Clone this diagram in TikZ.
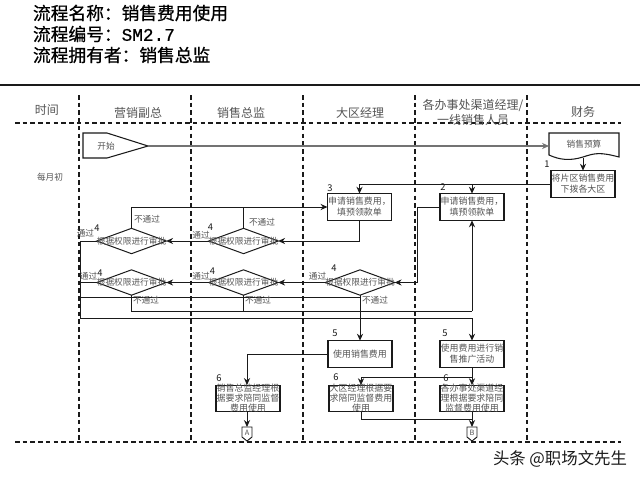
\documentclass[tikz,border=0pt]{standalone}
\usepackage{fontspec}
\setmainfont{Noto Sans CJK SC}
\newfontfamily\latinmono[FakeBold=0.6]{Liberation Mono}
\newfontfamily\ttlf[FakeBold=0.6]{Noto Sans CJK SC}
\usetikzlibrary{arrows.meta,shapes.geometric}
\definecolor{ink}{HTML}{1A1A1A}
\definecolor{txt}{HTML}{555555}
\tikzset{
  x=0.75pt,y=-0.75pt,
  every node/.style={inner sep=0pt,outer sep=0pt,text=txt},
  lane/.style={dashed,dash pattern=on 3.4pt off 2.4pt,line width=0.8pt,color=ink},
  flow/.style={line width=0.75pt,color=ink},
  arr/.style={flow,-{Stealth[length=5.2pt,width=4.6pt]}},
  procbox/.style={draw=ink,line width=0.9pt,fill=white,minimum width=48pt,minimum height=20pt,anchor=center},
  boxtxt/.style={align=center,font=\fontsize{6.7}{8.3}\selectfont},
  boxtxtb/.style={align=center,font=\fontsize{6.7}{7.5}\selectfont},
  dec/.style={diamond,draw=ink,line width=0.75pt,aspect=2.7,minimum width=52pt,minimum height=19pt,inner sep=0pt},
  dectext/.style={font=\fontsize{6.5}{8}\selectfont},
  lbl/.style={font=\fontsize{6.5}{8}\selectfont},
  num/.style={font=\fontsize{7}{8}\selectfont,text=ink},
  head/.style={font=\fontsize{9}{11}\selectfont},
  ttl/.style={font=\ttlf\fontsize{13.3}{15}\selectfont,text=black,anchor=west},
  conn/.style={draw=ink,line width=0.7pt,fill=white}
}
\begin{document}
\begin{tikzpicture}
\useasboundingbox (0,0) rectangle (640,480);
\fill[white] (0,0) rectangle (640,480);
% titles
\node[ttl] (t1) at (33,13) {流程名称：销售费用使用};
\node[ttl] (t2) at (33,34) {流程编号：{\latinmono SM2.7}};
\node[ttl] (t3) at (33,55) {流程拥有者：销售总监};
\draw[line width=1pt,color=ink] (0,85) -- (640,85);
% lanes
\draw[lane] (15,123) -- (621,123);
\draw[lane] (15,442) -- (621,442);
\foreach \xx in {79,191,303,415,527}{\draw[lane] (\xx,95) -- (\xx,442);}
% headers
\node[head] (h0) at (47,110) {时间};
\node[head] (h1) at (138,113) {营销副总};
\node[head] (h2) at (241,113) {销售总监};
\node[head] (h3) at (360,113) {大区经理};
\node[head] (h4) at (473,105) {各办事处渠道经理/};
\node[head] (h5) at (473,120) {一线销售人员};
\node[head] (h6) at (583,112) {财务};
\node[lbl] (m) at (50,177) {每月初};
% start
\draw[draw=ink,line width=0.8pt] (83,133) -- (107,133) -- (148,146) -- (107,158) -- (83,158) -- cycle;
\node[lbl] (start) at (106,146) {开始};
\coordinate (starttip) at (148,146);
% budget doc
\draw[draw=ink,line width=0.8pt,fill=white] (549,133) -- (619,133) -- (619,157) .. controls (600,152) and (595,153) .. (583,157) .. controls (570,161) and (560,160) .. (549,155) -- cycle;
\node[lbl] (bud) at (584,144) {销售预算};
\coordinate (budin) at (549,146);
\coordinate (budout) at (583,158);
\draw[line width=1.4pt,color=black!55,-{Stealth[length=5.2pt,width=4.6pt]}] (starttip) -- (budin);
% boxes
\node[procbox] (b1) at (583,184) {};
\node[procbox] (b3) at (359.5,207) {};
\node[procbox] (b2) at (472,207) {};
\node[procbox] (u1) at (360,354) {};
\node[procbox] (u2) at (472,354) {};
\node[procbox] (s1) at (248,398.5) {};
\node[procbox] (s2) at (361,398.5) {};
\node[procbox] (s3) at (472,398.5) {};
\node[boxtxt] at (b1) {将片区销售费用\\下拨各大区};
\node[boxtxt] at (b3) {申请销售费用，\\填预领款单};
\node[boxtxt] at (b2) {申请销售费用，\\填预领款单};
\node[boxtxt] at (u1) {使用销售费用};
\node[boxtxt] at (u2) {使用费用进行销\\售推广活动};
\node[boxtxtb] at (s1) {销售总监经理根\\据要求陪同监督\\费用使用};
\node[boxtxtb] at (s2) {大区经理根据要\\求陪同监督费用\\使用};
\node[boxtxtb] at (s3) {各办事处渠道经\\理根据要求陪同\\监督费用使用};
% diamonds
\node[dec] (d11) at (131.5,241) {};
\node[dec] (d12) at (243.5,241) {};
\node[dec] (d21) at (131.5,282.5) {};
\node[dec] (d22) at (243.5,282.5) {};
\node[dec] (d23) at (360,282.5) {};
% off-page connectors
\draw[conn] (242,427) -- (252,427) -- (252,437) -- (247,441) -- (242,437) -- cycle;
\node[font=\fontsize{5.5}{6}\selectfont] (A) at (247,433) {A};
\draw[conn] (467,427) -- (477,427) -- (477,437) -- (472,441) -- (467,437) -- cycle;
\node[font=\fontsize{5.5}{6}\selectfont] (B) at (472,433) {B};
% connectors
\draw[arr] (budout) -- (b1.north -| budout);
\draw[flow] (b1.west) -- (359.5,184);
\draw[arr] (359.5,184) -- (b3.north);
\draw[arr] (472,184) -- (b2.north);
\draw[arr] (131.5,228) -- (131.5,207) -- (b3.west);
\draw[flow] (243.5,228) -- (243.5,207);
\draw[arr] (b3.south) -- (359.5,241) -- (d12.east);
\draw[arr] (d12.west) -- (d11.east);
\draw[flow] (d11.west) -- (80,241) -- (80,318) -- (472,318);
\draw[arr] (472,318) -- (u2.north);
\draw[flow] (d21.west) -- (80,282.5);
\draw[flow] (b2.west) -- (417,207) -- (417,282.5);
\draw[arr] (417,282.5) -- (d23.east);
\draw[arr] (d23.west) -- (d22.east);
\draw[arr] (d22.west) -- (d21.east);
\draw[flow] (80,297) -- (359.5,297);
\draw[arr] (d23.south) -- (u1.north -| d23.south);
\draw[flow] (d21.south) -- (131.5,311) -- (472,311);
\draw[flow] (d22.south) -- (243.5,311);
\draw[arr] (472,311) -- (b2.south);
\draw[arr] (u1.west) -- (247,354) -- (247,385);
\draw[arr] (u2.south) -- (s3.north);
\draw[arr] (472,377) -- (361,377) -- (s2.north);
\draw[flow] (s2.south) -- (361,419) -- (472,419);
\draw[arr] (247,412) -- (247,427);
\draw[arr] (472,412) -- (472,427);
% texts over shapes
\foreach \nm in {d11,d12,d21,d22,d23}{\node[dectext] at (\nm) {根据权限进行审批};}
\node[lbl] at (147,219) {不通过};
\node[lbl] at (262,222) {不通过};
\node[lbl] at (146,300) {不通过};
\node[lbl] at (258,300) {不通过};
\node[lbl] at (375,300) {不通过};
\node[lbl] at (85.5,233) {通过};
\node[lbl] at (201,235) {通过};
\node[lbl] at (88.5,276) {通过};
\node[lbl] at (201,276) {通过};
\node[lbl] at (317.5,276) {通过};
\node[num] at (97,228) {4};
\node[num] at (210.5,227) {4};
\node[num] at (100,273) {4};
\node[num] at (212.5,271) {4};
\node[num] at (334,268) {4};
\node[num] at (547,164) {1};
\node[num] at (330,188) {3};
\node[num] at (443,187) {2};
\node[num] at (335,333) {5};
\node[num] at (445,333) {5};
\node[num] at (219,378) {6};
\node[num] at (336,377) {6};
\node[num] at (446,378) {6};
% watermark
\node[font=\fontsize{12.3}{14}\selectfont,text=ink] (wm) at (560,459) {头条 @职场文先生};
\end{tikzpicture}
\end{document}
